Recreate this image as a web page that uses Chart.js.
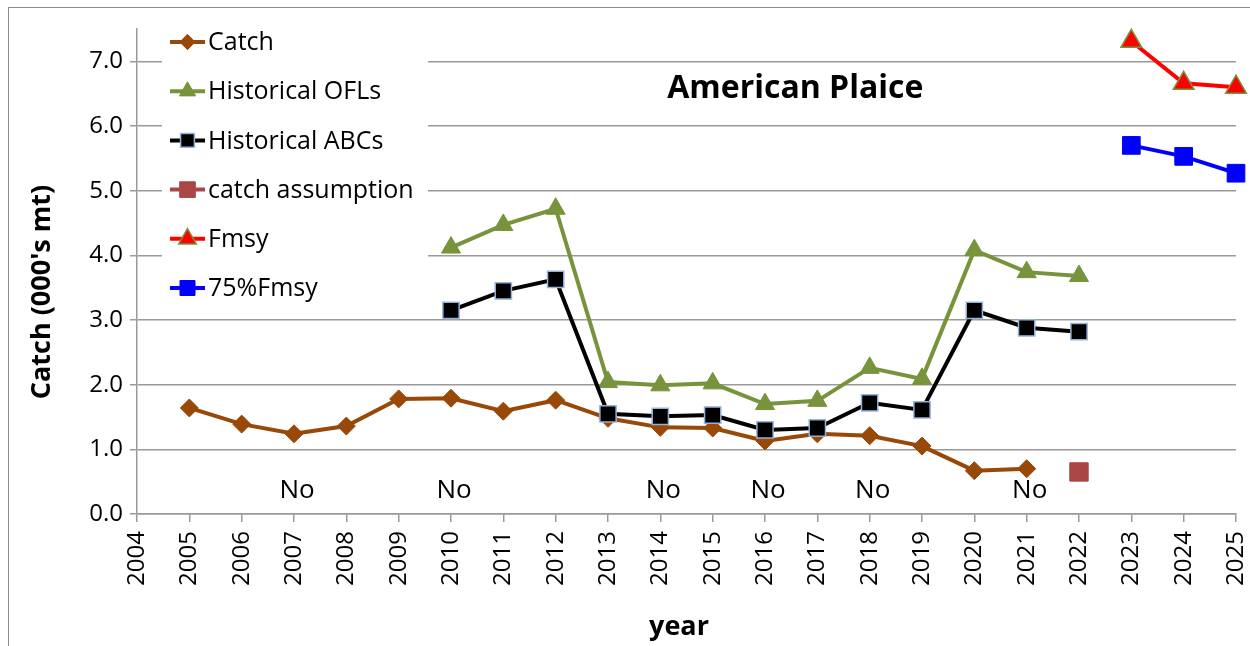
<!DOCTYPE html>
<html>
<head>
<meta charset="utf-8">
<script src="https://cdn.jsdelivr.net/npm/chart.js@4.4.1/dist/chart.umd.min.js"></script>
<style>
  html, body { margin: 0; padding: 0; background: #fff; }
  #wrap { position: relative; width: 1250px; height: 646px; }
  #frame { position: absolute; left: 8px; top: 7px; right: 0; bottom: 0;
           border-left: 1.5px solid #8c8c8c; border-top: 1.5px solid #8c8c8c; pointer-events: none; }
</style>
</head>
<body>
<div id="wrap">
  <canvas id="chart" width="1250" height="646"></canvas>
  <div id="frame"></div>
</div>
<script>
// Data (000's mt)
const catchYears = [2005,2006,2007,2008,2009,2010,2011,2012,2013,2014,2015,2016,2017,2018,2019,2020,2021];
const catchValues = [1.64,1.39,1.24,1.36,1.78,1.79,1.59,1.76,1.48,1.34,1.33,1.13,1.24,1.21,1.05,0.67,0.70];

const specYears = [2010,2011,2012,2013,2014,2015,2016,2017,2018,2019,2020,2021,2022];
const oflValues = [4.12,4.47,4.72,2.04,1.99,2.02,1.70,1.75,2.26,2.09,4.08,3.74,3.68];
const abcValues = [3.15,3.45,3.63,1.55,1.51,1.53,1.30,1.33,1.72,1.61,3.15,2.88,2.82];

const assumptionYears = [2022];
const assumptionValues = [0.65];

const projYears = [2023,2024,2025];
const fmsyValues = [7.31,6.66,6.60];
const fmsy75Values = [5.70,5.53,5.27];

// axis ticks
const xTickYears = [2004,2005,2006,2007,2008,2009,2010,2011,2012,2013,2014,2015,2016,2017,2018,2019,2020,2021,2022,2023,2024,2025];
const yTickValues = [0,1,2,3,4,5,6,7];

// years marked "No" near the bottom of the plot
const noYears = [2007,2010,2014,2016,2018,2021];
const noLevel = 0.36;

const chartTitle = "American Plaice";
const xTitle = "year";
const yTitle = "Catch (000's mt)";

const FONT = "'Open Sans', 'DejaVu Sans', sans-serif";
const GRID = "#9a9a9a";

const pts = (xs, ys) => xs.map((x, i) => ({ x: x, y: ys[i] }));

function series(label, xs, ys, color, style, radius, border, order) {
  return {
    label: label,
    data: pts(xs, ys),
    borderColor: color,
    backgroundColor: color,
    borderWidth: 4,
    pointStyle: style,
    pointRadius: radius,
    pointHoverRadius: radius,
    pointBackgroundColor: color,
    pointBorderColor: border || color,
    pointBorderWidth: border ? 1.5 : 1,
    showLine: true,
    tension: 0,
    clip: false,
    order: order
  };
}

const datasets = [
  series("Catch", catchYears, catchValues, "#984807", "rectRot", 9, null, 5),
  series("Historical OFLs", specYears, oflValues, "#77933c", "triangle", 11, null, 4),
  series("Historical ABCs", specYears, abcValues, "#000000", "rect", 11.5, "#95b3d7", 1),
  series("catch assumption", assumptionYears, assumptionValues, "#aa4643", "rect", 13, null, 3),
  series("Fmsy", projYears, fmsyValues, "#ff0000", "triangle", 12, "#77933c", 2),
  series("75%Fmsy", projYears, fmsy75Values, "#0000ff", "rect", 12.5, null, 2)
];

// marker used in the legend, same shapes as the chart's points
function marker(ctx, style, x, y, r, fill, stroke, lw) {
  ctx.save();
  ctx.beginPath();
  if (style === "rectRot") {
    ctx.moveTo(x, y - r); ctx.lineTo(x + r, y); ctx.lineTo(x, y + r); ctx.lineTo(x - r, y);
  } else if (style === "triangle") {
    for (let k = 0; k < 3; k++) {
      const a = -Math.PI / 2 + k * 2 * Math.PI / 3;
      const px = x + Math.cos(a) * r, py = y + Math.sin(a) * r;
      k ? ctx.lineTo(px, py) : ctx.moveTo(px, py);
    }
  } else {
    const s = Math.SQRT1_2 * r;
    ctx.rect(x - s, y - s, 2 * s, 2 * s);
  }
  ctx.closePath();
  ctx.fillStyle = fill; ctx.fill();
  ctx.lineWidth = lw; ctx.strokeStyle = stroke; ctx.stroke();
  ctx.restore();
}

const overlay = {
  id: "overlay",
  beforeDatasetsDraw(chart) {
    const ctx = chart.ctx;
    const xs = chart.scales.x, ys = chart.scales.y;
    ctx.save();
    // legend box inside the plot
    ctx.fillStyle = "#fff";
    ctx.fillRect(162, 20, 266, 292);
    ctx.font = "25px " + FONT;
    ctx.textBaseline = "middle";
    ctx.textAlign = "left";
    chart.data.datasets.forEach((ds, i) => {
      const y = 42 + i * 49.2;
      ctx.strokeStyle = ds.borderColor;
      ctx.lineWidth = 4;
      ctx.beginPath(); ctx.moveTo(170, y); ctx.lineTo(205, y); ctx.stroke();
      marker(ctx, ds.pointStyle, 187.5, y, ds.pointRadius * 0.85, ds.pointBackgroundColor,
             ds.pointBorderColor, ds.pointBorderWidth);
      ctx.fillStyle = "#000";
      ctx.fillText(ds.label, 208, y + 1);
    });
    // chart title
    ctx.font = "bold 32px " + FONT;
    ctx.textAlign = "center";
    ctx.fillText(chartTitle, xs.getPixelForValue(2016.58), ys.getPixelForValue(6.58));
    // "No" notes
    ctx.font = "26px " + FONT;
    noYears.forEach(yr => ctx.fillText("No", xs.getPixelForValue(yr) + 3, ys.getPixelForValue(noLevel)));
    // axis titles
    ctx.font = "bold 27px " + FONT;
    ctx.fillText(xTitle, 679, 627);
    ctx.translate(42, 292);
    ctx.rotate(-Math.PI / 2);
    ctx.font = "bold 27px " + FONT;
    ctx.fillText(yTitle, 0, 0);
    ctx.restore();
  }
};

new Chart(document.getElementById("chart"), {
  type: "line",
  data: { datasets: datasets },
  options: {
    responsive: false,
    animation: false,
    layout: { padding: { top: 29, right: 0, left: 0, bottom: 0 } },
    plugins: { legend: { display: false }, tooltip: { enabled: false } },
    scales: {
      x: {
        type: "linear",
        min: 2004, max: 2025,
        afterBuildTicks: a => { a.ticks = xTickYears.map(v => ({ value: v })); },
        afterFit: s => { s.height = 132; s.paddingLeft = 0; s.paddingRight = 0; },
        ticks: { autoSkip: false, maxRotation: 90, minRotation: 90, padding: 9,
                 color: "#000", font: { family: FONT, size: 24 }, callback: v => String(v) },
        grid: { drawOnChartArea: false, drawTicks: true, tickLength: 8, color: GRID, lineWidth: 1.5 },
        border: { display: true, color: GRID, width: 1.5 }
      },
      y: {
        min: 0, max: 7.5,
        afterBuildTicks: a => { a.ticks = yTickValues.map(v => ({ value: v })); },
        afterFit: s => { s.width = 137; s.paddingTop = 0; s.paddingBottom = 0; },
        ticks: { padding: 7, color: "#000", font: { family: FONT, size: 24 },
                 callback: v => v.toFixed(1) },
        grid: { color: GRID, lineWidth: 1.5, tickLength: 7 },
        border: { display: true, color: GRID, width: 1.5 }
      }
    }
  },
  plugins: [overlay]
});
</script>
</body>
</html>
